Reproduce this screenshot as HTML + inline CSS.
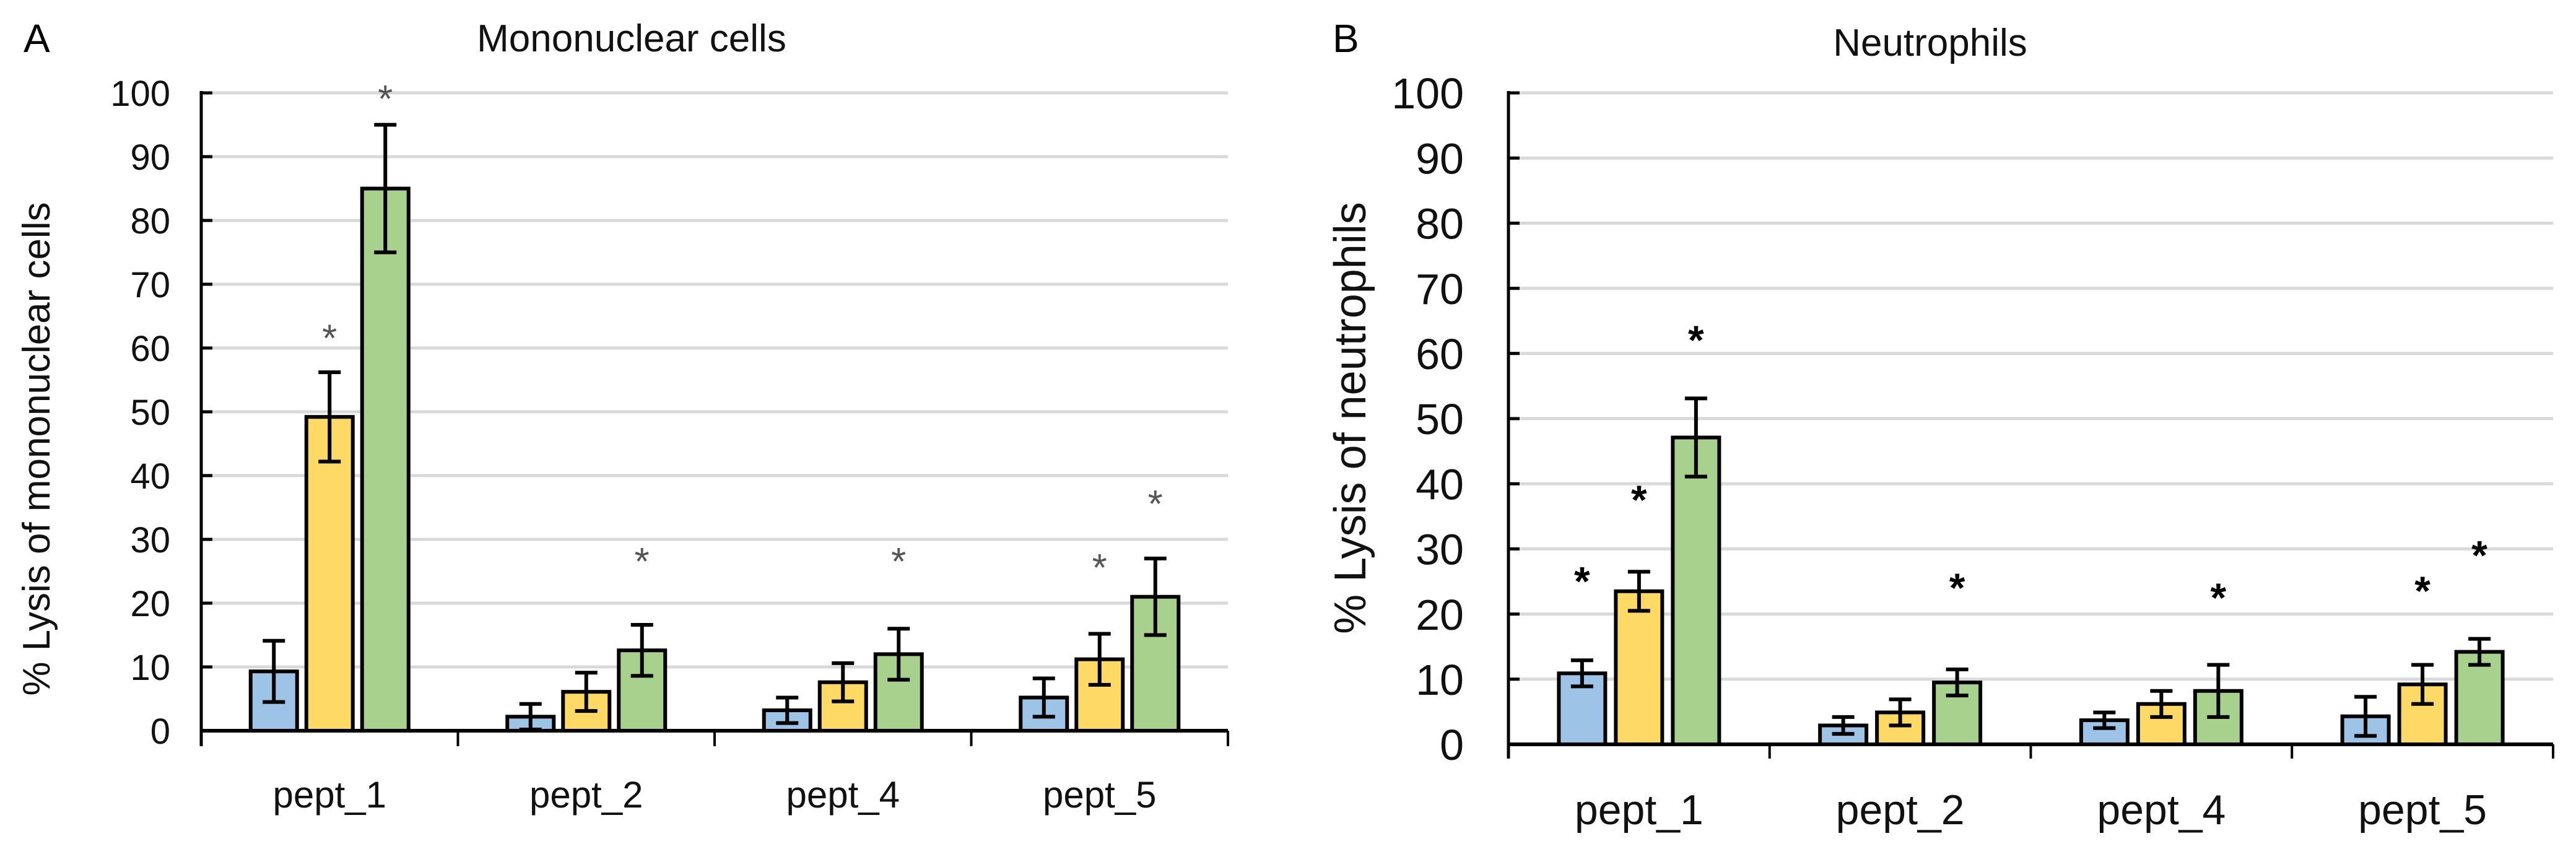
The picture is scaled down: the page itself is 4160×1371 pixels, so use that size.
<!DOCTYPE html>
<html><head><meta charset="utf-8"><style>
html,body{margin:0;padding:0;background:#fff;}
svg{display:block;font-family:"Liberation Sans",Arial,sans-serif;}
</style></head><body>
<svg id="fig" width="4160" height="1371" viewBox="0 0 4160 1371" xmlns="http://www.w3.org/2000/svg"></svg>
<script>
const categories = ["pept_1","pept_2","pept_4","pept_5"];
const yTicks = [0,10,20,30,40,50,60,70,80,90,100];
const monoBlue = [9.3,2.2,3.2,5.2];
const monoYellow = [49.2,6.1,7.6,11.2];
const monoGreen = [85,12.6,12,21];
const monoBlueErr = [4.8,2,2,3];
const monoYellowErr = [7,3,3,4];
const monoGreenErr = [10,4,4,6];
const neuBlue = [10.9,2.9,3.7,4.3];
const neuYellow = [23.5,4.9,6.2,9.2];
const neuGreen = [47.1,9.5,8.2,14.2];
const neuBlueErr = [2,1.3,1.2,3];
const neuYellowErr = [3,2,2,3];
const neuGreenErr = [6,2,4,2];
// star markers: [category index, series index, value level]
const monoStars = [[0,1,62],[0,2,99.5],[1,2,27],[2,2,27],[3,1,26],[3,2,36]];
const neuStars = [[0,0,25.5],[0,1,38],[0,2,62.5],[1,2,24.5],[2,2,23],[3,1,24],[3,2,29.5]];

const svg = document.getElementById('fig');
const NS = 'http://www.w3.org/2000/svg';
function mk(tag, attrs, parent){const e=document.createElementNS(NS,tag);for(const k in attrs)e.setAttribute(k,attrs[k]);(parent||svg).appendChild(e);return e;}
const colors = ['#9DC3E6','#FFD966','#A9D18E'];

function panel(o){
  const g = mk('g',{});
  
  
  const y = v => o.y0 - (o.y0 - o.y100) * v / 100;
  const catW = (o.x1 - o.x0) / categories.length;
  // gridlines
  yTicks.forEach(t => {
    if (t > 0) {
      const gl = mk('line',{x1:o.x0,x2:o.x1,y1:y(t),y2:y(t),stroke:'#d9d9d9','stroke-width':5},g);
      
      
    }
    const tk = mk('line',{x1:o.x0,x2:o.x0+18,y1:y(t),y2:y(t),stroke:'#000','stroke-width':5},g);
    
    
    const tl = mk('text',{x:o.labX,y:y(t)+o.tickFs*0.36,'text-anchor':'end','font-size':o.tickFs,fill:'#111'},g);
    tl.textContent = t;
    
    
  });
  // bars
  const series = [o.b,o.yel,o.gr], errs = [o.be,o.ye,o.ge];
  const bw = 75, gap = o.gap;
  categories.forEach((c,i) => {
    const cx = o.x0 + catW*(i+0.5);
    series.forEach((s,j) => {
      const bx = cx + (j-1)*(bw+gap) - bw/2;
      const r = mk('rect',{x:bx,y:y(s[i]),width:bw,height:o.y0-y(s[i]),fill:colors[j],stroke:'#000','stroke-width':6},g);
      
      
      const mx = bx + bw/2, e = errs[j][i];
      const eb = mk('path',{d:`M${mx} ${y(s[i]+e)}V${y(s[i]-e)}M${mx-18} ${y(s[i]+e)}h36M${mx-18} ${y(s[i]-e)}h36`,stroke:'#000','stroke-width':6,fill:'none'},g);
      
      
    });
    const xl = mk('text',{x:cx,y:o.xlabY,'text-anchor':'middle','font-size':o.xFs,fill:'#111'},g);
    xl.textContent = c;
    
    
  });
  // stars
  o.stars.forEach(st => {
    const cx = o.x0 + catW*(st[0]+0.5) + (st[1]-1)*(bw+gap);
    const t = mk('text',{x:cx,y:y(st[2])+o.starFs*0.42,'text-anchor':'middle','font-size':o.starFs,fill:o.starCol,'font-weight':o.starW},g);
    t.textContent = '*';
    
    
  });
  // axes
  const ya = mk('line',{x1:o.x0,x2:o.x0,y1:o.y100-3,y2:o.tickBot,stroke:'#000','stroke-width':5},g);
  
  
  const xa = mk('line',{x1:o.x0,x2:o.x1,y1:o.y0,y2:o.y0,stroke:'#000','stroke-width':6},g);
  
  
  for (let i=1;i<=categories.length;i++){
    const cx = o.x0 + catW*i;
    const ct = mk('line',{x1:cx,x2:cx,y1:o.y0,y2:o.tickBot,stroke:'#000','stroke-width':4},g);
    
    
  }
  const ti = mk('text',{x:o.titleX,y:o.titleY,'text-anchor':'middle','font-size':o.titleFs,fill:'#111'},g);
  ti.textContent = o.title;
  
  
  const yt = mk('text',{x:0,y:0,'text-anchor':'middle','font-size':o.yTitleFs,fill:'#111',transform:`translate(${o.yTitleX},${o.yTitleY}) rotate(-90)`},g);
  yt.textContent = o.yTitle;
  
  
  const pl = mk('text',{x:o.letterX,y:84,'font-size':64,fill:'#000'},g);
  pl.textContent = o.letter;
  
  
}

panel({id:'mononuclear',x0:325,x1:1983,y0:1180,y100:150,tickBot:1205,labX:275,tickFs:58,gap:15,xlabY:1304,xFs:60,
  b:monoBlue,yel:monoYellow,gr:monoGreen,be:monoBlueErr,ye:monoYellowErr,ge:monoGreenErr,
  stars:monoStars,starFs:62,starCol:'#555',starW:'normal',
  title:'Mononuclear  cells',titleX:1020,titleY:83,titleFs:62,
  yTitle:'% Lysis of mononuclear cells',yTitleX:80,yTitleY:725,yTitleFs:62,letter:'A',letterX:38});
panel({id:'neutrophils',x0:2436,x1:4123,y0:1202,y100:150,tickBot:1225,labX:2364,tickFs:70,gap:17,xlabY:1331,xFs:68,
  b:neuBlue,yel:neuYellow,gr:neuGreen,be:neuBlueErr,ye:neuYellowErr,ge:neuGreenErr,
  stars:neuStars,starFs:66,starCol:'#000',starW:'bold',
  title:'Neutrophils',titleX:3117,titleY:90,titleFs:62,
  yTitle:'% Lysis of neutrophils',yTitleX:2205,yTitleY:675,yTitleFs:72,letter:'B',letterX:2152});
</script>
</body></html>
